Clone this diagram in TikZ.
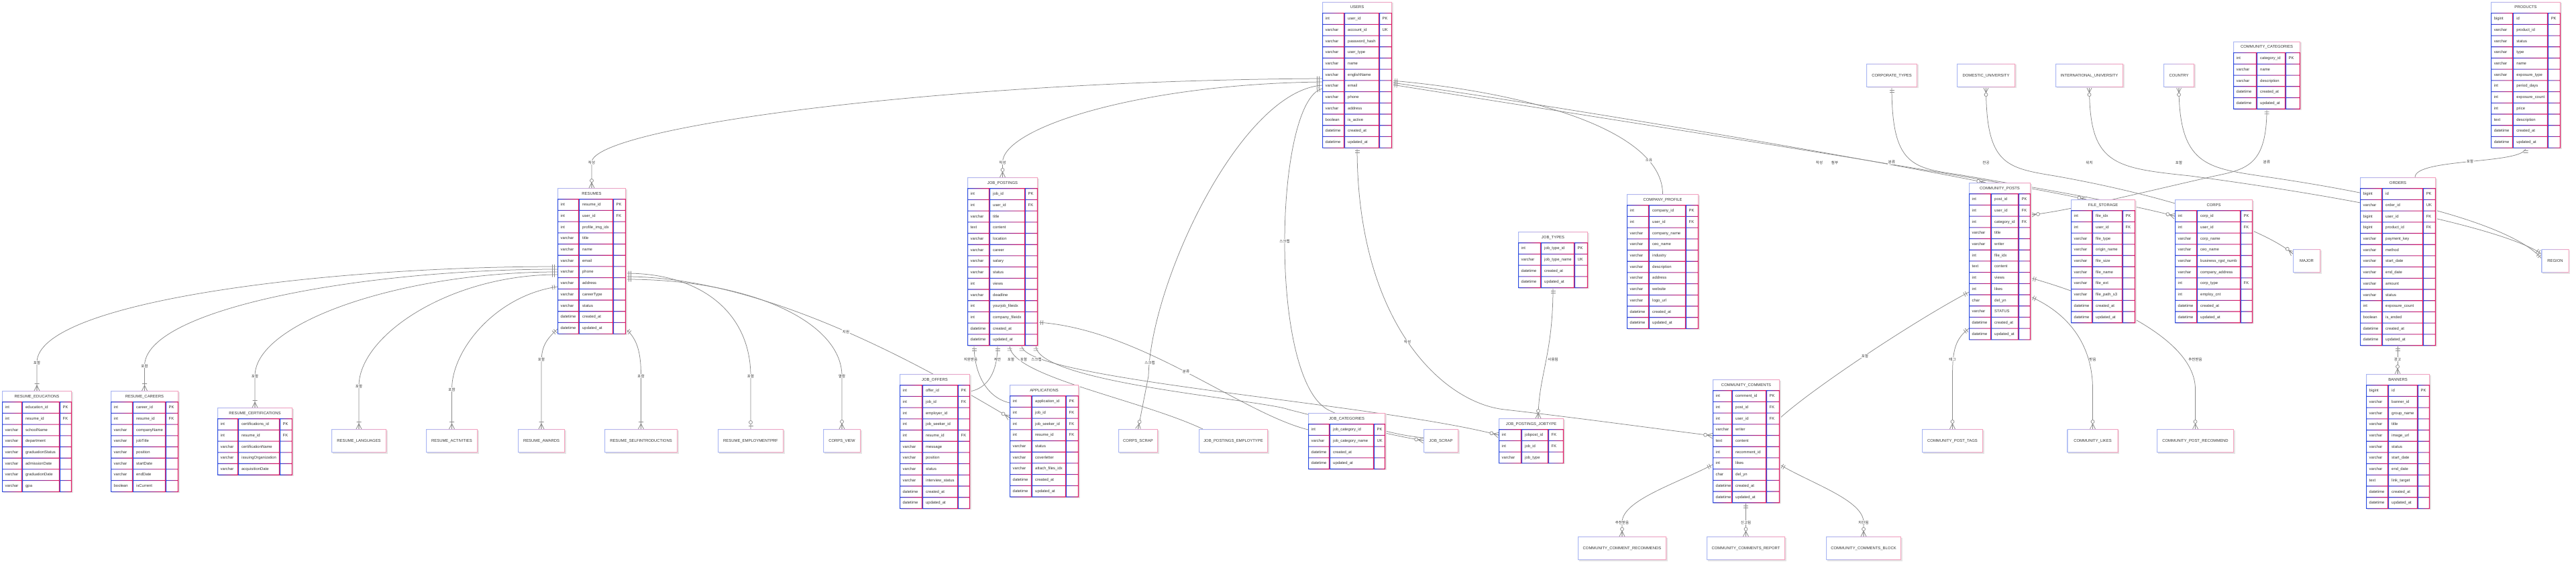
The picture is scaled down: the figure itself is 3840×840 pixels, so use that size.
\documentclass[tikz,border=0pt]{standalone}
\usepackage{fontspec}
\setmainfont{Liberation Sans}
\newfontfamily\krfont{Noto Sans CJK KR}
\usetikzlibrary{decorations.markings}
\definecolor{erblue}{HTML}{2A4BE0}
\definecolor{erred}{HTML}{E8175D}
\colorlet{blite}{erblue!40!white}
\colorlet{rlite}{erred!40!white}
\definecolor{txtc}{HTML}{333333}
\definecolor{edgec}{HTML}{8A8A8A}
\colorlet{shadowc}{black!10}
\pgfdeclarelayer{bg}
\pgfsetlayers{bg,main}

\newcommand\mkone{\draw[edgec,line width=0.75] (4.5,-3.5)--(4.5,3.5) (7.5,-3.5)--(7.5,3.5);}
\newcommand\mkzo{\draw[edgec,line width=0.75] (4.5,-3.5)--(4.5,3.5); \draw[edgec,line width=0.75,fill=white] (10,0) circle[radius=2.5pt];}
\newcommand\mkom{\draw[edgec,line width=0.75] (0,-4)--(8,0)--(0,4) (0,0)--(8,0) (10.5,-3.5)--(10.5,3.5);}
\newcommand\mkzm{\draw[edgec,line width=0.75] (0,-4)--(8,0)--(0,4) (0,0)--(8,0); \draw[edgec,line width=0.75,fill=white] (11,0) circle[radius=2.5pt];}

\tikzset{
 sone/.style={postaction={decorate,decoration={markings,mark=at position 0 with {\mkone}}}},
 szm/.style={postaction={decorate,decoration={markings,mark=at position 0 with {\mkzm}}}},
 eone/.style={postaction={decorate,decoration={markings,mark=at position 1 with {\begin{scope}[xscale=-1]\mkone\end{scope}}}}},
 ezm/.style={postaction={decorate,decoration={markings,mark=at position 1 with {\begin{scope}[xscale=-1]\mkzm\end{scope}}}}},
 eom/.style={postaction={decorate,decoration={markings,mark=at position 1 with {\begin{scope}[xscale=-1]\mkom\end{scope}}}}},
 ezo/.style={postaction={decorate,decoration={markings,mark=at position 1 with {\begin{scope}[xscale=-1]\mkzo\end{scope}}}}},
 edge/.style={draw=edgec,line width=0.75},
 lbl/.style={font=\krfont\fontsize{5.5}{6}\selectfont,text=txtc,fill=white,inner sep=0.7pt},
 ertxt/.style={font=\fontsize{5.9}{7}\selectfont,text=txtc,inner sep=0pt,text height=4.4pt,text depth=1.1pt},
}

\newcommand\ercol[4]{%
 \shade[left color=erblue,right color=erred] (#1,#3) rectangle (#1+1.1,{#3+16.7*#4}) (#2-1.1,#3) rectangle (#2,{#3+16.7*#4}) foreach \j in {0,...,#4} {(#1,{#3+16.7*\j-0.55}) rectangle (#2,{#3+16.7*\j+0.55})};%
}

\newcommand\ertable[9]{%
 \pgfmathsetmacro\xa{#2}\pgfmathsetmacro\xb{#2+#4}\pgfmathsetmacro\xc{#2+#4+#5}\pgfmathsetmacro\xd{#2+#4+#5+#6}%
 \pgfmathsetmacro\ya{#3}\pgfmathsetmacro\yb{#3+16.7}\pgfmathsetmacro\ye{#3+16.7*(#8+1)}%
 \pgfmathsetmacro\tabw{#4+#5+#6}\pgfmathsetmacro\tabh{16.7*(#8+1)}%
 \fill[shadowc] (\xa+1.5,\ya+1.5) rectangle (\xd+1.5,\ye+1.5);
 \node[fill=white,inner sep=0pt,outer sep=0pt,anchor=north west,minimum width=\tabw pt,minimum height=\tabh pt] (#1) at (\xa,\ya) {};
 \node[ertxt] at ({(\xa+\xd)/2},\ya+8.35) {#7};
 \shade[left color=blite,right color=rlite] (\xa,\ya) rectangle (\xd,\ya+1) (\xa,\ya) rectangle (\xa+1,\yb) (\xd-1,\ya) rectangle (\xd,\yb);
 \foreach [count=\i] \ty/\nm/\ky in {#9} {
   \node[ertxt,anchor=west] at (\xa+4.5,{\yb+16.7*(\i-0.5)}) {\ty};
   \node[ertxt,anchor=west] at (\xb+5,{\yb+16.7*(\i-0.5)}) {\nm};
   \node[ertxt,anchor=west] at (\xc+4.5,{\yb+16.7*(\i-0.5)}) {\ky};
 }
 \ercol{\xa}{\xb}{\yb}{#8}\ercol{\xb}{\xc}{\yb}{#8}\ercol{\xc}{\xd}{\yb}{#8}%
}

\newcommand\erbox[5]{%
 \pgfmathsetmacro\xa{#2-#4/2}\pgfmathsetmacro\xd{#2+#4/2}\pgfmathsetmacro\ya{#3}\pgfmathsetmacro\ye{#3+35}%
 \fill[shadowc] (\xa+1.5,\ya+1.5) rectangle (\xd+1.5,\ye+1.5);
 \node[fill=white,inner sep=0pt,outer sep=0pt,anchor=north west,minimum width=#4pt,minimum height=35pt] (#1) at (\xa,\ya) {};
 \node[ertxt] at (#2,\ya+17.5) {#5};
 \shade[left color=blite,right color=rlite] (\xa,\ya) rectangle (\xd,\ya+1) (\xa,\ye-1) rectangle (\xd,\ye) (\xa,\ya) rectangle (\xa+1,\ye) (\xd-1,\ya) rectangle (\xd,\ye);
}

\begin{document}
\begin{tikzpicture}[x=1pt,y=-1pt]
\useasboundingbox (0,0) rectangle (3840,840);

% ---------- rank 0
\ertable{users}{1971}{3}{33}{52}{19}{USERS}{12}{int/user\_id/PK, varchar/account\_id/UK, varchar/password\_hash/, varchar/user\_type/, varchar/name/, varchar/englishName/, varchar/email/, varchar/phone/, varchar/address/, boolean/is\_active/, datetime/created\_at/, datetime/updated\_at/}
\ertable{products}{3713}{3}{33}{52}{19}{PRODUCTS}{12}{bigint/id/PK, varchar/product\_id/, varchar/status/, varchar/type/, varchar/name/, varchar/exposure\_type/, int/period\_days/, int/exposure\_count/, int/price/, text/description/, datetime/created\_at/, datetime/updated\_at/}
\ertable{ccat}{3329}{62}{35}{43}{22}{COMMUNITY\_CATEGORIES}{5}{int/category\_id/PK, varchar/name/, varchar/description/, datetime/created\_at/, datetime/updated\_at/}
\erbox{corptypes}{2820}{95}{76}{CORPORATE\_TYPES}
\erbox{domuni}{2960.5}{95}{87}{DOMESTIC\_UNIVERSITY}
\erbox{intuni}{3114.5}{95}{101}{INTERNATIONAL\_UNIVERSITY}
\erbox{country}{3248}{95}{46}{COUNTRY}

% ---------- rank 1
\ertable{resumes}{831}{280}{32}{51}{19}{RESUMES}{12}{int/resume\_id/PK, int/user\_id/FK, int/profile\_img\_idx/, varchar/title/, varchar/name/, varchar/email/, varchar/phone/, varchar/address/, varchar/careerType/, varchar/status/, datetime/created\_at/, datetime/updated\_at/}
\ertable{jobpost}{1442}{264}{33}{53}{19}{JOB\_POSTINGS}{14}{int/job\_id/PK, int/user\_id/FK, varchar/title/, text/content/, varchar/location/, varchar/career/, varchar/salary/, varchar/status/, int/views/, varchar/deadline/, int/yourjob\_fileidx/, int/company\_fileidx/, datetime/created\_at/, datetime/updated\_at/}
\ertable{jobtypes}{2263}{345}{34}{50}{20}{JOB\_TYPES}{4}{int/job\_type\_id/PK, varchar/job\_type\_name/UK, datetime/created\_at/, datetime/updated\_at/}
\ertable{compprof}{2425}{289}{33}{55}{19}{COMPANY\_PROFILE}{11}{int/company\_id/PK, int/user\_id/FK, varchar/company\_name/, varchar/ceo\_name/, varchar/industry/, varchar/description/, varchar/address/, varchar/website/, varchar/logo\_url/, datetime/created\_at/, datetime/updated\_at/}
\ertable{cposts}{2935}{272}{33}{41}{18}{COMMUNITY\_POSTS}{13}{int/post\_id/PK, int/user\_id/FK, int/category\_id/FK, varchar/title/, varchar/writer/, int/file\_idx/, text/content/, int/views/, int/likes/, char/del\_yn/, varchar/STATUS/, datetime/created\_at/, datetime/updated\_at/}
\ertable{files}{3087}{297}{32}{45}{19}{FILE\_STORAGE}{10}{int/file\_idx/PK, int/user\_id/FK, varchar/file\_type/, varchar/origin\_name/, varchar/file\_size/, varchar/file\_name/, varchar/file\_ext/, varchar/file\_path\_s3/, datetime/created\_at/, datetime/updated\_at/}
\ertable{corps}{3242}{297}{33}{65}{18}{CORPS}{10}{int/corp\_id/PK, int/user\_id/FK, varchar/corp\_name/, varchar/ceo\_name/, varchar/business\_rgst\_numb/, varchar/company\_address/, int/corp\_type/FK, int/employ\_cnt/, datetime/created\_at/, datetime/updated\_at/}
\erbox{major}{3438.5}{371}{41}{MAJOR}
\ertable{orders}{3518}{264}{33}{61}{19}{ORDERS}{14}{bigint/id/PK, varchar/order\_id/UK, bigint/user\_id/FK, bigint/product\_id/FK, varchar/payment\_key/, varchar/method/, varchar/start\_date/, varchar/end\_date/, varchar/amount/, varchar/status/, int/exposure\_count/, boolean/is\_ended/, datetime/created\_at/, datetime/updated\_at/}
\erbox{region}{3809}{371}{41}{REGION}

% ---------- rank 2
\ertable{redu}{3}{582}{30}{56}{18}{RESUME\_EDUCATIONS}{8}{int/education\_id/PK, int/resume\_id/FK, varchar/schoolName/, varchar/department/, varchar/graduationStatus/, varchar/admissionDate/, varchar/graduationDate/, varchar/gpa/}
\ertable{rcar}{165}{582}{33}{49}{19}{RESUME\_CAREERS}{8}{int/career\_id/PK, int/resume\_id/FK, varchar/companyName/, varchar/jobTitle/, varchar/position/, varchar/startDate/, varchar/endDate/, boolean/isCurrent/}
\ertable{rcert}{324}{607}{31}{62}{19}{RESUME\_CERTIFICATIONS}{5}{int/certifications\_id/PK, int/resume\_id/FK, varchar/certificationName/, varchar/issuingOrganization/, varchar/acquisitionDate/}
\erbox{rlang}{535}{639}{82}{RESUME\_LANGUAGES}
\erbox{ract}{673.5}{639}{77}{RESUME\_ACTIVITIES}
\erbox{raward}{807}{639}{70}{RESUME\_AWARDS}
\erbox{rself}{955.5}{639}{109}{RESUME\_SELFINTRODUCTIONS}
\erbox{remp}{1119}{639}{98}{RESUME\_EMPLOYMENTPRF}
\erbox{corpsview}{1255}{639}{56}{CORPS\_VIEW}
\ertable{joboffers}{1341}{557}{34}{53}{18}{JOB\_OFFERS}{11}{int/offer\_id/PK, int/job\_id/FK, int/employer\_id/, int/job\_seeker\_id/, int/resume\_id/FK, varchar/message/, varchar/position/, varchar/status/, varchar/interview\_status/, datetime/created\_at/, datetime/updated\_at/}
\ertable{apps}{1505}{573}{33}{51}{19}{APPLICATIONS}{9}{int/application\_id/PK, int/job\_id/FK, int/job\_seeker\_id/FK, int/resume\_id/FK, varchar/status/, varchar/coverletter/, varchar/attach\_files\_idx/, datetime/created\_at/, datetime/updated\_at/}
\erbox{corpsscrap}{1696.5}{639}{59}{CORPS\_SCRAP}
\erbox{jpemp}{1838.5}{639}{103}{JOB\_POSTINGS\_EMPLOYTYPE}
\ertable{jobcat}{1950}{615}{32}{66}{17}{JOB\_CATEGORIES}{4}{int/job\_category\_id/PK, varchar/job\_category\_name/UK, datetime/created\_at/, datetime/updated\_at/}
\erbox{jobscrap}{2148}{639}{52}{JOB\_SCRAP}
\ertable{jpjt}{2234}{623}{34}{40}{23}{JOB\_POSTINGS\_JOBTYPE}{3}{int/jobpost\_id/FK, int/job\_id/FK, varchar/job\_type/}
\ertable{ccomm}{2553}{565}{29}{51}{20}{COMMUNITY\_COMMENTS}{10}{int/comment\_id/PK, int/post\_id/FK, int/user\_id/FK, varchar/writer/, text/content/, int/recomment\_id/, int/likes/, char/del\_yn/, datetime/created\_at/, datetime/updated\_at/}
\erbox{ptags}{2910.5}{639}{91}{COMMUNITY\_POST\_TAGS}
\erbox{clikes}{3119.5}{639}{76}{COMMUNITY\_LIKES}
\erbox{prec}{3272.5}{639}{115}{COMMUNITY\_POST\_RECOMMEND}
\ertable{banners}{3527}{557}{33}{44}{18}{BANNERS}{11}{bigint/id/PK, varchar/banner\_id/, varchar/group\_name/, varchar/title/, varchar/image\_url/, varchar/status/, varchar/start\_date/, varchar/end\_date/, text/link\_target/, datetime/created\_at/, datetime/updated\_at/}

% ---------- rank 3
\erbox{crec}{2418}{799}{132}{COMMUNITY\_COMMENT\_RECOMMENDS}
\erbox{crep}{2602.5}{799}{117}{COMMUNITY\_COMMENTS\_REPORT}
\erbox{cblock}{2778}{799}{112}{COMMUNITY\_COMMENTS\_BLOCK}

% ---------- connectors
\begin{pgfonlayer}{bg}
\fill[white] (0,0) rectangle (3840,840);
% resumes
\draw[edge,sone,eom] (resumes.west |- 0,397) .. controls (480,397) and (55,450) .. (55,540) -- (redu.north);
\draw[edge,sone,eom] (resumes.west |- 0,401) .. controls (540,401) and (215.5,460) .. (215.5,545) -- (rcar.north);
\draw[edge,sone,eom] (resumes.west |- 0,405) .. controls (600,405) and (380,480) .. (380,560) -- (rcert.north);
\draw[edge,sone,eom] (resumes.west |- 0,409) .. controls (670,409) and (535,500) .. (535,575) -- (rlang.north);
\draw[edge,sone,eom] (resumes.west |- 0,427) .. controls (740,440) and (673.5,520) .. (673.5,580) -- (ract.north);
\draw[edge,sone,eom] (resumes.west |- 0,490) .. controls (815,505) and (807,515) .. (807,540) -- (raward.north);
\draw[edge,sone,eom] (resumes.east |- 0,490) .. controls (950,505) and (955.5,525) .. (955.5,560) -- (rself.north);
\draw[edge,sone,ezo] (resumes.east |- 0,407) .. controls (1050,407) and (1119,470) .. (1119,560) -- (remp.north);
\draw[edge,sone,ezm] (resumes.east |- 0,416) .. controls (1120,416) and (1255,480) .. (1255,560) -- (corpsview.north);
\draw[edge,sone,ezm] (resumes.east |- 0,412) .. controls (1150,412) and (1400,560) .. (apps.west |- 0,622);
% users
\draw[edge,sone,ezm] (users.west |- 0,117) .. controls (1400,120) and (882,190) .. (882,242) -- (resumes.north);
\draw[edge,sone,ezm] (users.west |- 0,122) .. controls (1700,125) and (1494.5,190) .. (1494.5,242) -- (jobpost.north);
\draw[edge,sone,ezm] (users.west |- 0,127) .. controls (1850,135) and (1715,420) .. (1712,560) -- (corpsscrap.north);
\draw[edge,sone,ezm] (users.west |- 0,132) .. controls (1900,150) and (1890,560) .. (1979,610) .. controls (2030,635) and (2080,648) .. (jobscrap.west |- 0,652);
\draw[edge,sone,ezm] (users.south -| 2023,0) .. controls (2023,480) and (2150,600) .. (2243,610) .. controls (2350,622) and (2480,640) .. (ccomm.west |- 0,649);
\draw[edge,sone,ezo] (users.east |- 0,120) .. controls (2300,140) and (2478.5,200) .. (compprof.north);
\draw[edge,sone,ezm] (users.east |- 0,123) .. controls (2400,170) and (2800,240) .. (cposts.north -| 2960,0);
\draw[edge,sone,ezm] (users.east |- 0,126) .. controls (2400,178) and (2950,262) .. (files.north -| 3110,0);
% job postings
\draw[edge,sone,ezm] (jobpost.south -| 1452,0) .. controls (1452,555) and (1470,592) .. (apps.west |- 0,600);
\draw[edge,sone,ezm] (jobpost.south -| 1487,0) .. controls (1487,555) and (1472,578) .. (joboffers.east |- 0,583);
\draw[edge,sone,ezm] (jobpost.south -| 1505,0) .. controls (1505,560) and (1700,595) .. ([shift={(6,0)}]jpemp.north west);
\draw[edge,sone,ezm] (jobpost.south -| 1523,0) .. controls (1523,565) and (2050,600) .. (jpjt.west |- 0,648);
\draw[edge,sone,ezm] (jobpost.south -| 1544,0) .. controls (1544,570) and (1880,595) .. (1921,610) .. controls (2000,630) and (2080,650) .. (jobscrap.west |- 0,656);
\draw[edge,sone,ezm] (jobpost.east |- 0,480) .. controls (1700,490) and (1850,615) .. (jobcat.west |- 0,640);
\draw[edge,sone,ezm] (jobtypes.south -| 2315,0) .. controls (2315,530) and (2293,560) .. (jpjt.north -| 2293,0);
% community
\draw[edge,sone,ezm] (ccat.south -| 3379,0) .. controls (3379,245) and (3350,252) .. (3302,262) .. controls (3200,285) and (3080,315) .. (cposts.east |- 0,320);
\draw[edge,sone,ezm] (cposts.west |- 0,435) .. controls (2850,480) and (2700,580) .. (ccomm.east |- 0,623);
\draw[edge,sone,ezm] (cposts.west |- 0,489) .. controls (2915,505) and (2910.5,520) .. (2910.5,560) -- (ptags.north);
\draw[edge,sone,ezm] (cposts.east |- 0,442) .. controls (3090,470) and (3119.5,520) .. (3119.5,580) -- (clikes.north);
\draw[edge,sone,ezm] (cposts.east |- 0,414) .. controls (3120,440) and (3272.5,500) .. (3272.5,580) -- (prec.north);
\draw[edge,sone,ezm] (ccomm.west |- 0,692) .. controls (2500,720) and (2418,745) .. (2418,778) -- (crec.north);
\draw[edge,sone,ezm] (ccomm.south -| 2602.5,0) -- (crep.north);
\draw[edge,sone,ezm] (ccomm.east |- 0,692) .. controls (2700,720) and (2778,745) .. (2778,778) -- (cblock.north);
% orders / products
\draw[edge,sone,ezm] (orders.south -| 3574,0) -- (banners.north -| 3574,0);
\draw[edge,sone,ezm] (products.south -| 3765,0) .. controls (3765,245) and (3600,235) .. (orders.north -| 3600,0);
% top boxes
\draw[edge,sone,ezm] (corptypes.south) .. controls (2820,245) and (2850,250) .. (2919,260) .. controls (3050,282) and (3180,305) .. (corps.west |- 0,322);
\draw[edge,szm,ezm] (domuni.south) .. controls (2960.5,245) and (2990,250) .. (3063,262) .. controls (3250,295) and (3380,345) .. (major.west |- 0,378);
\draw[edge,szm,eone] (intuni.south) .. controls (3114.5,245) and (3150,250) .. (3265,262) .. controls (3550,300) and (3740,345) .. (region.west |- 0,378);
\draw[edge,szm,eone] (country.south) .. controls (3248,245) and (3290,250) .. (3369,262) .. controls (3600,295) and (3750,340) .. (region.west |- 0,385);
\end{pgfonlayer}

% ---------- labels
\node[lbl] (l1) at (55,540) {포함};
\node[lbl] (l2) at (215.5,545) {포함};
\node[lbl] (l3) at (380,560) {포함};
\node[lbl] (l4) at (535,575) {포함};
\node[lbl] (l5) at (673.5,580) {포함};
\node[lbl] (l6) at (807,535) {포함};
\node[lbl] (l7) at (955.5,560) {포함};
\node[lbl] (l8) at (1119,560) {포함};
\node[lbl] (l9) at (1255,560) {열람};
\node[lbl] (l10) at (1261,494) {지원};
\node[lbl] (l11) at (882,242) {작성};
\node[lbl] (l12) at (1494.5,242) {작성};
\node[lbl] (l13) at (1714,540) {스크랩};
\node[lbl] (l14) at (1915,359) {스크랩};
\node[lbl] (l15) at (2098,509) {작성};
\node[lbl] (l16) at (2458,239) {소유};
\node[lbl] (l17) at (2712,242) {작성};
\node[lbl] (l18) at (2735,242) {첨부};
\node[lbl] (l19) at (1447,535) {지원받음};
\node[lbl] (l20) at (1487,535) {제안};
\node[lbl] (l21) at (1507,535) {포함};
\node[lbl] (l22) at (1526,535) {포함};
\node[lbl] (l23) at (1545,535) {스크랩};
\node[lbl] (l24) at (1768,554) {분류};
\node[lbl] (l25) at (2315,535) {사용됨};
\node[lbl] (l26) at (3379,242) {분류};
\node[lbl] (l27) at (2780,530) {포함};
\node[lbl] (l28) at (2910.5,535) {태그};
\node[lbl] (l29) at (3119.5,535) {받음};
\node[lbl] (l30) at (3272.5,535) {추천받음};
\node[lbl] (l31) at (2418,778) {추천받음};
\node[lbl] (l32) at (2602.5,778) {신고됨};
\node[lbl] (l33) at (2778,778) {차단됨};
\node[lbl] (l34) at (3574,535) {광고};
\node[lbl] (l35) at (3682,240) {포함};
\node[lbl] (l36) at (2820,242) {분류};
\node[lbl] (l37) at (2960.5,242) {전공};
\node[lbl] (l38) at (3114.5,242) {위치};
\node[lbl] (l39) at (3248,242) {포함};
\end{tikzpicture}
\end{document}
